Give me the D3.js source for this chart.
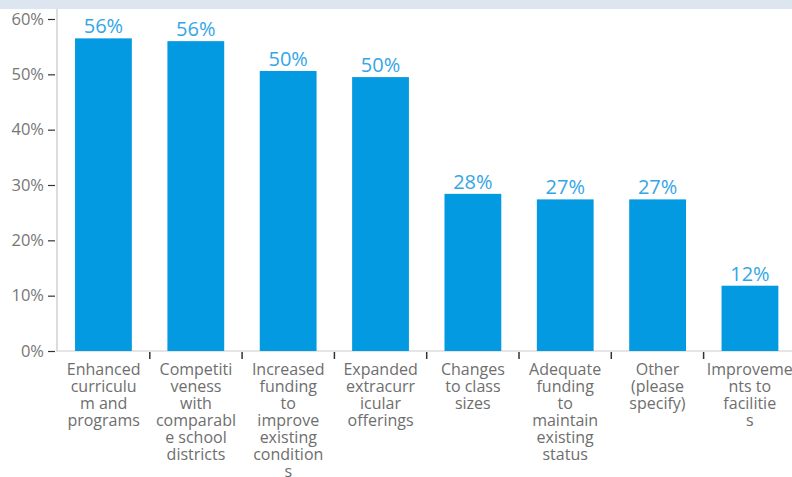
<!DOCTYPE html>
<html>
<head>
<meta charset="utf-8">
<script src="https://cdn.jsdelivr.net/npm/d3@7"></script>
<style>
html,body{margin:0;padding:0;background:#fff;overflow:hidden;}
svg{display:block;font-family:"Open Sans",sans-serif;}
</style>
</head>
<body>
<svg id="chart" width="792" height="477"></svg>
<script>
const categories = [
  "Enhanced curriculum and programs",
  "Competitiveness with comparable school districts",
  "Increased funding to improve existing conditions",
  "Expanded extracurricular offerings",
  "Changes to class sizes",
  "Adequate funding to maintain existing status",
  "Other (please specify)",
  "Improvements to facilities"
];
const labelLines = [
  ["Enhanced","curriculu","m and","programs"],
  ["Competiti","veness","with","comparabl","e school","districts"],
  ["Increased","funding","to","improve","existing","condition","s"],
  ["Expanded","extracurr","icular","offerings"],
  ["Changes","to class","sizes"],
  ["Adequate","funding","to","maintain","existing","status"],
  ["Other","(please","specify)"],
  ["Improveme","nts to","facilitie","s"]
];
const values = [56.5, 56.0, 50.6, 49.5, 28.4, 27.4, 27.4, 11.8];
const valueLabels = ["56%","56%","50%","50%","28%","27%","27%","12%"];
const yTicks = [0, 10, 20, 30, 40, 50, 60];

const svg = d3.select("#chart");
const W = 792, H = 477;
const x0 = 57.5, bandW = 92.3;
const yBottom = 351, yTop = 19;

// top band
svg.append("rect").attr("x",0).attr("y",0).attr("width",W).attr("height",9).attr("fill","#dce5f0");

const x = d3.scaleBand().domain(categories).range([x0, x0 + bandW*categories.length]).paddingInner(0.385).paddingOuter(0.19);
const y = d3.scaleLinear().domain([0, 60]).range([yBottom, yTop]);

// y axis line
svg.append("line").attr("x1",57).attr("x2",57).attr("y1",9).attr("y2",yBottom)
  .attr("stroke","#dcdcdc").attr("stroke-width",2);
// x axis line
svg.append("line").attr("x1",56).attr("x2",W).attr("y1",yBottom).attr("y2",yBottom)
  .attr("stroke","#dcdcdc").attr("stroke-width",1.5);

// y axis
const yAxis = d3.axisLeft(y).tickValues(yTicks).tickFormat(d => d + "%").tickSize(7).tickPadding(4);
const gy = svg.append("g").attr("transform","translate(55,0)").call(yAxis);
gy.select(".domain").remove();
gy.selectAll(".tick line").attr("stroke","#333").attr("stroke-width",1.2);
gy.selectAll(".tick text").attr("fill","#777").attr("font-size","16.5px").attr("font-family","Open Sans, sans-serif");

// category boundary ticks
const bounds = categories.slice(1).map((c,i) => x0 + bandW*(i+1));
svg.append("g").selectAll("line").data(bounds).join("line")
  .attr("x1",d=>d).attr("x2",d=>d).attr("y1",yBottom+1).attr("y2",yBottom+8)
  .attr("stroke","#333").attr("stroke-width",1.5);

// bars
svg.append("g").selectAll("rect").data(values).join("rect")
  .attr("x",(d,i)=>x(categories[i]))
  .attr("width",x.bandwidth())
  .attr("y",d=>y(d))
  .attr("height",d=>yBottom - y(d))
  .attr("fill","#049ae2");

// value labels
svg.append("g").selectAll("text").data(values).join("text")
  .attr("x",(d,i)=>x(categories[i]) + x.bandwidth()/2)
  .attr("y",d=>y(d) - 5)
  .attr("text-anchor","middle")
  .attr("fill","#34a6e6")
  .attr("font-size","20px")
  .text((d,i)=>valueLabels[i]);

// category labels
const lab = svg.append("g").selectAll("text").data(categories).join("text")
  .attr("text-anchor","middle")
  .attr("fill","#6e6e6e")
  .attr("font-size","16px")
  .attr("transform",(d,i)=>`translate(${x0 + bandW*i + bandW/2},375)`);
lab.selectAll("tspan").data((d,i)=>labelLines[i]).join("tspan")
  .attr("x",0).attr("dy",(d,j)=> j===0 ? 0 : 17).text(d=>d);
</script>
</body>
</html>
